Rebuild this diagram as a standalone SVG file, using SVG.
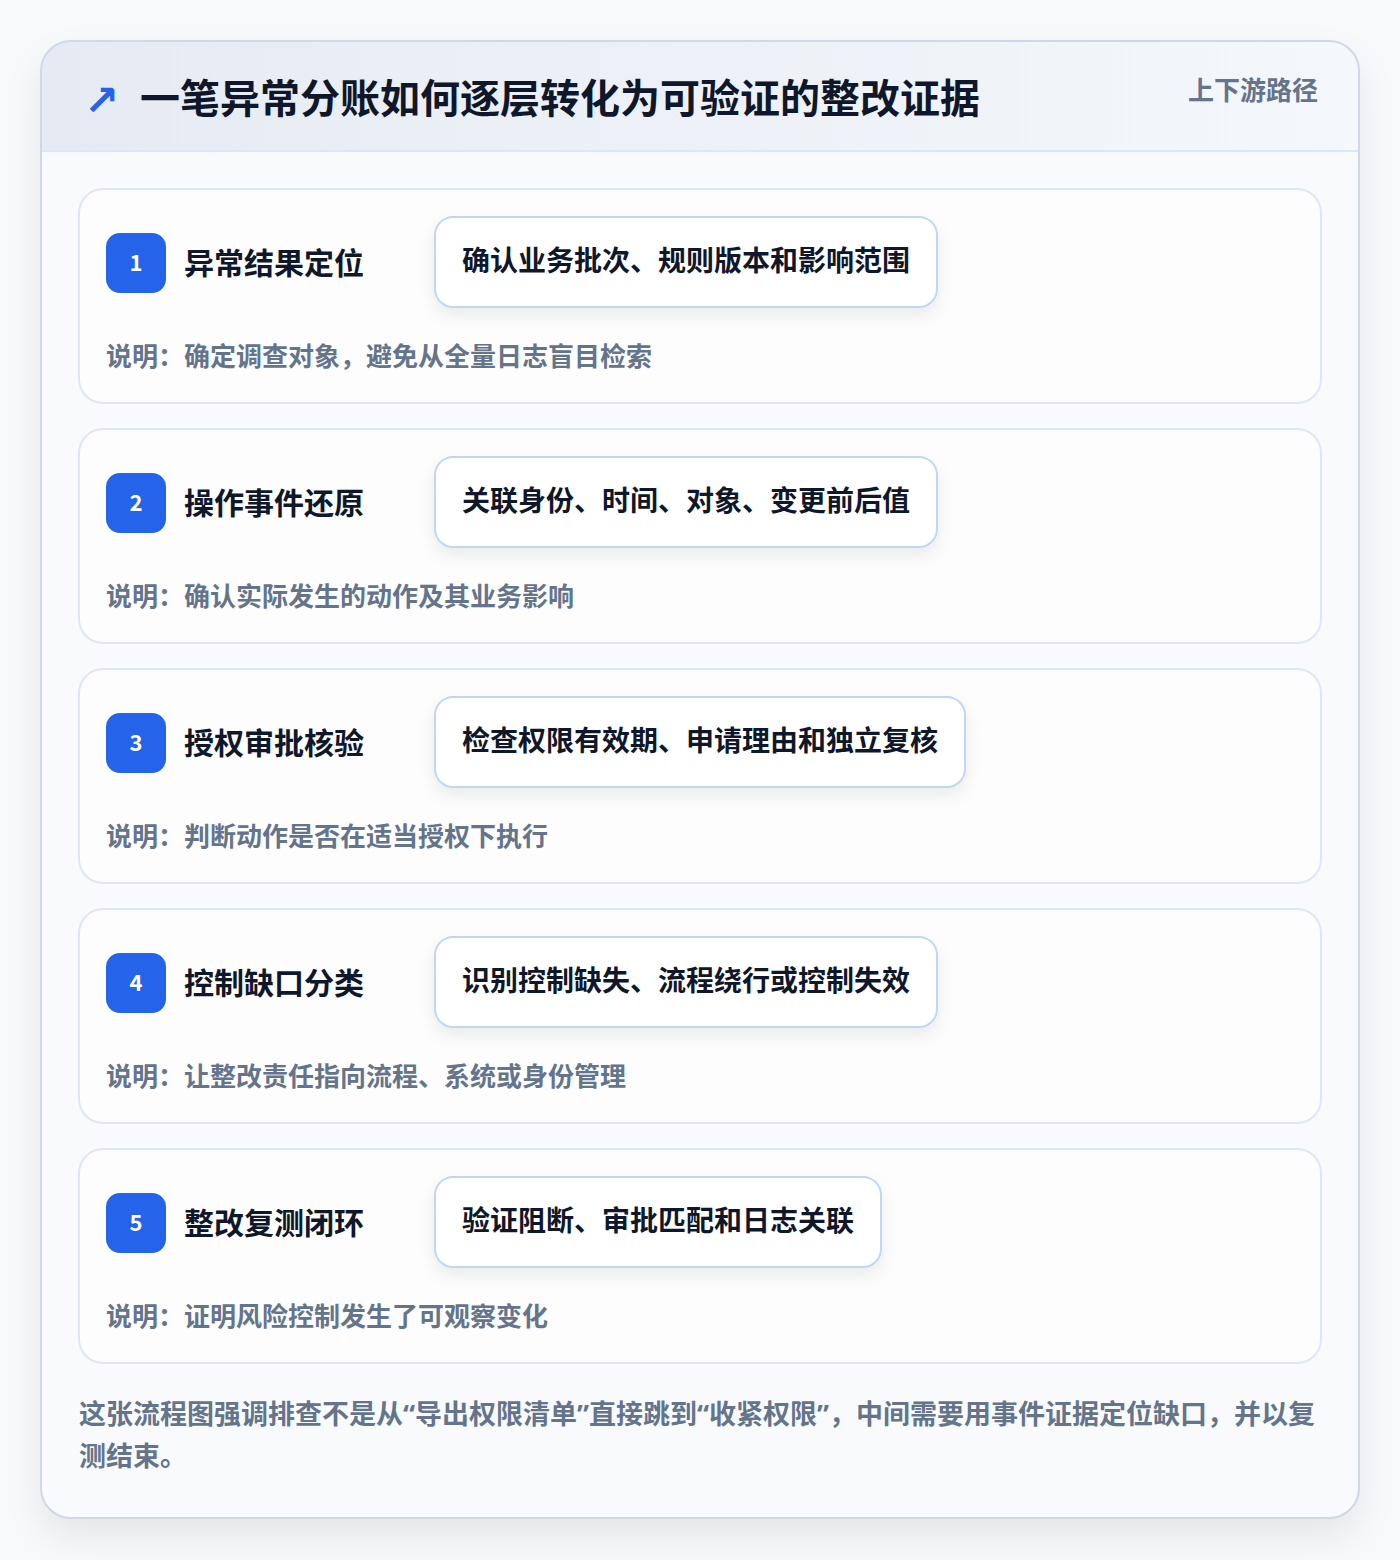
<svg xmlns="http://www.w3.org/2000/svg" width="1400" height="1560" viewBox="0 0 1400 1560">
<defs>
<linearGradient id="hdr" x1="0" y1="0" x2="1" y2="0">
<stop offset="0" stop-color="#e6ebf3"/>
<stop offset="1" stop-color="#f4f7fb"/>
</linearGradient>
<filter id="cardShadow" x="-10%" y="-10%" width="120%" height="120%">
<feDropShadow dx="0" dy="18" stdDeviation="18" flood-color="#0f172a" flood-opacity="0.08"/>
</filter>
<filter id="pillShadow" x="-10%" y="-30%" width="120%" height="170%">
<feDropShadow dx="0" dy="8" stdDeviation="8" flood-color="#0f172a" flood-opacity="0.07"/>
</filter>
<clipPath id="outerClip"><rect x="41" y="41" width="1318" height="1477" rx="30"/></clipPath>
</defs>
<style>
text{font-family:"Noto Sans CJK SC","Noto Sans",sans-serif;font-weight:700}
.card{fill:#fdfdfe;stroke:#dbe7f7;stroke-width:2}
.badge{fill:#2563eb}
.num{fill:#ffffff;font-size:22px;text-anchor:middle}
.ttl{fill:#0f172a;font-size:30px}
.pill{fill:#ffffff;stroke:#bfd6f4;stroke-width:2}
.ptxt{fill:#0f172a;font-size:28px}
.desc{fill:#64748b;font-size:26px}
.foot{fill:#64748b;font-size:27px}
.q{font-family:"Noto Sans","Liberation Sans",sans-serif}
</style>
<rect x="0" y="0" width="1400" height="1560" fill="#f8f9fb"/>
<g id="frame">
<rect x="41" y="41" width="1318" height="1477" rx="30" fill="#f8fafc" filter="url(#cardShadow)"/>
<rect x="41" y="41" width="1318" height="110" fill="url(#hdr)" clip-path="url(#outerClip)"/>
<line x1="41" y1="151" x2="1359" y2="151" stroke="#dbe7f7" stroke-width="2"/>
<rect x="41" y="41" width="1318" height="1477" rx="30" fill="none" stroke="#cfd8e6" stroke-width="2"/>
<text x="84" y="115" font-size="42" fill="#2563eb" style="font-family:'DejaVu Sans',sans-serif;font-weight:700">↗</text>
<text x="140" y="113" font-size="40" fill="#0f172a">一笔异常分账如何逐层转化为可验证的整改证据</text>
<text x="1318" y="100" font-size="26" fill="#64748b" text-anchor="end">上下游路径</text>
</g>
<g id="connectors"></g>
<g id="step1">
<rect class="card" x="79" y="189" width="1242" height="214" rx="24"/>
<rect class="badge" x="106" y="233" width="60" height="60" rx="14"/>
<text class="num" x="136" y="271">1</text>
<text class="ttl" x="184" y="274">异常结果定位</text>
<rect class="pill" x="435" y="217" width="502" height="90" rx="18" filter="url(#pillShadow)"/>
<text class="ptxt" x="462" y="271">确认业务批次、规则版本和影响范围</text>
<text class="desc" x="106" y="366">说明：确定调查对象，避免从全量日志盲目检索</text>
</g>
<g id="step2">
<rect class="card" x="79" y="429" width="1242" height="214" rx="24"/>
<rect class="badge" x="106" y="473" width="60" height="60" rx="14"/>
<text class="num" x="136" y="511">2</text>
<text class="ttl" x="184" y="514">操作事件还原</text>
<rect class="pill" x="435" y="457" width="502" height="90" rx="18" filter="url(#pillShadow)"/>
<text class="ptxt" x="462" y="511">关联身份、时间、对象、变更前后值</text>
<text class="desc" x="106" y="606">说明：确认实际发生的动作及其业务影响</text>
</g>
<g id="step3">
<rect class="card" x="79" y="669" width="1242" height="214" rx="24"/>
<rect class="badge" x="106" y="713" width="60" height="60" rx="14"/>
<text class="num" x="136" y="751">3</text>
<text class="ttl" x="184" y="754">授权审批核验</text>
<rect class="pill" x="435" y="697" width="530" height="90" rx="18" filter="url(#pillShadow)"/>
<text class="ptxt" x="462" y="751">检查权限有效期、申请理由和独立复核</text>
<text class="desc" x="106" y="846">说明：判断动作是否在适当授权下执行</text>
</g>
<g id="step4">
<rect class="card" x="79" y="909" width="1242" height="214" rx="24"/>
<rect class="badge" x="106" y="953" width="60" height="60" rx="14"/>
<text class="num" x="136" y="991">4</text>
<text class="ttl" x="184" y="994">控制缺口分类</text>
<rect class="pill" x="435" y="937" width="502" height="90" rx="18" filter="url(#pillShadow)"/>
<text class="ptxt" x="462" y="991">识别控制缺失、流程绕行或控制失效</text>
<text class="desc" x="106" y="1086">说明：让整改责任指向流程、系统或身份管理</text>
</g>
<g id="step5">
<rect class="card" x="79" y="1149" width="1242" height="214" rx="24"/>
<rect class="badge" x="106" y="1193" width="60" height="60" rx="14"/>
<text class="num" x="136" y="1231">5</text>
<text class="ttl" x="184" y="1234">整改复测闭环</text>
<rect class="pill" x="435" y="1177" width="446" height="90" rx="18" filter="url(#pillShadow)"/>
<text class="ptxt" x="462" y="1231">验证阻断、审批匹配和日志关联</text>
<text class="desc" x="106" y="1326">说明：证明风险控制发生了可观察变化</text>
</g>
<g id="footer">
<text class="foot" x="79" y="1424">这张流程图强调排查不是从<tspan class="q">“</tspan>导出权限清单<tspan class="q">”</tspan>直接跳到<tspan class="q">“</tspan>收紧权限<tspan class="q">”</tspan>，中间需要用事件证据定位缺口，并以复</text>
<text class="foot" x="79" y="1466">测结束。</text>
</g>
</svg>
